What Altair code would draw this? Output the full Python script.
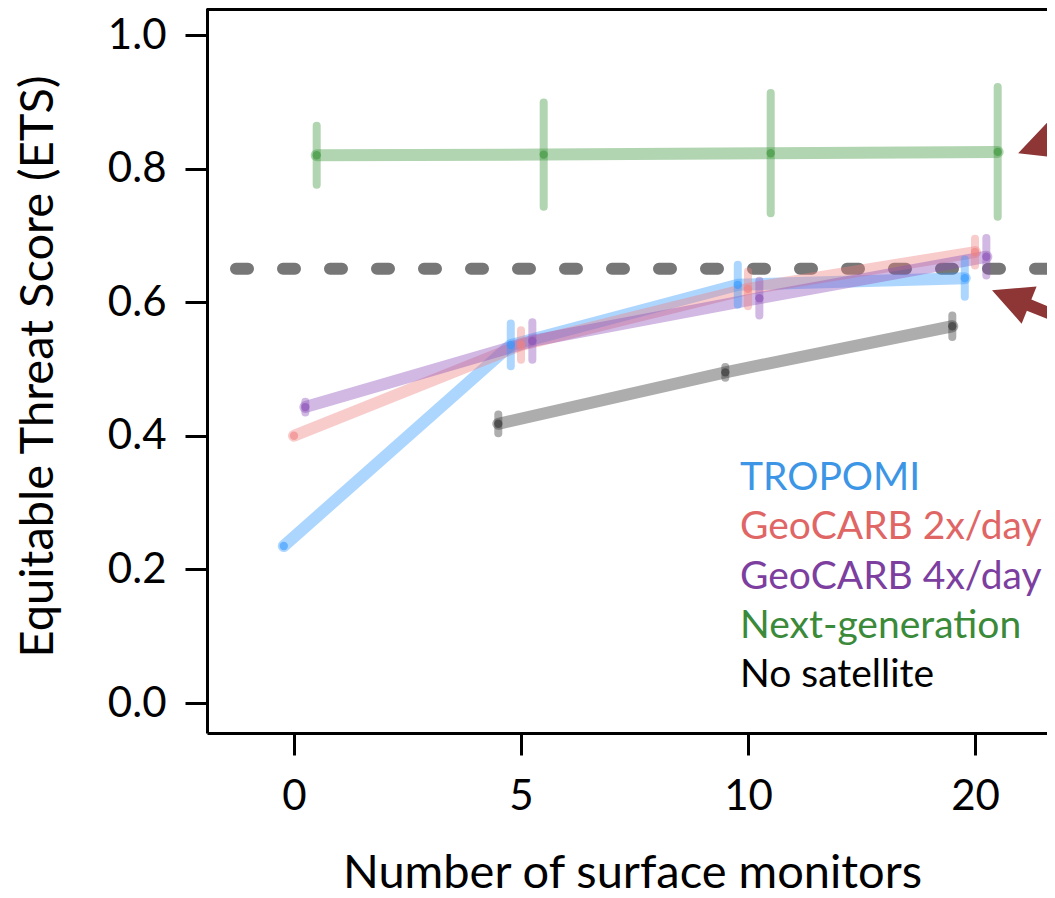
import altair as alt
import pandas as pd

# ---------------- data ----------------
monitors = ["0", "5", "10", "20"]
series = ["TROPOMI", "GeoCARB 2x/day", "GeoCARB 4x/day", "Next-generation", "No satellite"]

tropomi_ets = [0.235, 0.536, 0.626, 0.636]
tropomi_err = [0.0, 0.032, 0.030, 0.028]
geo2_ets = [0.400, 0.536, 0.620, 0.675]
geo2_err = [0.0, 0.022, 0.026, 0.020]
geo4_ets = [0.443, 0.542, 0.606, 0.668]
geo4_err = [0.008, 0.028, 0.026, 0.028]
nextgen_ets = [0.820, 0.821, 0.823, 0.825]
nextgen_err = [0.044, 0.078, 0.090, 0.097]
nosat_ets = [None, 0.418, 0.495, 0.564]
nosat_err = [None, 0.014, 0.008, 0.016]

threshold = 0.65
arrow_x = [3.19, 3.075]
arrow_y = [0.823, 0.618]

# ---------------- styles ----------------
line_colors = ["#3399FF", "#F08080", "#8B4FB8", "#3C963C", "#333333"]
text_colors = ["#3D95E6", "#E06666", "#7D3F9F", "#3A8A3A", "#000000"]
dodge = [-0.045, 0.0, 0.05, 0.1, -0.1]
arrow_angles = [340, 22]
FONT = "Lato"

W, H = 840, 725
STEP = 227.0
X0 = 87.0
xdom = [-X0 / STEP, (W - X0) / STEP]
ydom = [-30 / 668.0, 695 / 668.0]

ets_all = [tropomi_ets, geo2_ets, geo4_ets, nextgen_ets, nosat_ets]
err_all = [tropomi_err, geo2_err, geo4_err, nextgen_err, nosat_err]

rows = []
for s, name in enumerate(series):
    for i in range(len(monitors)):
        v = ets_all[s][i]
        e = err_all[s][i]
        if v is None:
            continue
        rows.append({"series": name, "x": i + dodge[s], "ets": v,
                     "lo": v - e, "hi": v + e, "err": e})
df = pd.DataFrame(rows)

xscale = alt.Scale(domain=xdom, nice=False, zero=False)
yscale = alt.Scale(domain=ydom, nice=False, zero=False)
cscale = alt.Scale(domain=series, range=line_colors)

label_expr = "[" + ",".join("'%s'" % m for m in monitors) + "][datum.value]"

xaxis = alt.Axis(values=list(range(len(monitors))), labelExpr=label_expr,
                 tickSize=22, tickWidth=3, tickColor="black",
                 domainColor="black", domainWidth=3, grid=False,
                 labelFont=FONT, labelFontSize=42, labelColor="black",
                 labelPadding=21, labelFlush=False, labelOverlap=False,
                 title="Number of surface monitors", titleFont=FONT,
                 titleFontSize=47, titleFontWeight="normal", titleColor="black",
                 titleX=425, titleY=154, titleAlign="center", titleBaseline="alphabetic")
yaxis = alt.Axis(values=[0, 0.2, 0.4, 0.6, 0.8, 1.0], format=".1f",
                 tickSize=22, tickWidth=3, tickColor="black",
                 domainColor="black", domainWidth=3, grid=False,
                 labelFont=FONT, labelFontSize=42, labelColor="black",
                 labelPadding=19, labelFlush=False, labelOverlap=False,
                 title="Equitable Threat Score (ETS)", titleFont=FONT,
                 titleFontSize=47, titleFontWeight="normal", titleColor="black",
                 titleX=-169, titleY=358, titleAlign="center", titleBaseline="middle",
                 titleAngle=270)

base = alt.Chart(df).encode(
    x=alt.X("x:Q", scale=xscale, axis=xaxis),
    y=alt.Y("ets:Q", scale=yscale, axis=yaxis),
    color=alt.Color("series:N", scale=cscale, legend=None),
)

thresh = alt.Chart(pd.DataFrame({"t": [threshold]})).mark_rule(
    color="#777777", strokeWidth=12, strokeDash=[12, 35], strokeCap="round"
).encode(y=alt.Y("t:Q", scale=yscale, axis=yaxis))

lines = base.mark_line(strokeWidth=12, opacity=0.4, strokeCap="round", strokeJoin="round")
bars = base.transform_filter("datum.err > 0").mark_rule(
    strokeWidth=8, opacity=0.4, strokeCap="round").encode(y="lo:Q", y2="hi:Q")
pts = base.mark_circle(size=70, opacity=0.6)

top_frame = alt.Chart(pd.DataFrame({"a": [0]})).mark_rule(color="black", strokeWidth=3).encode(
    x=alt.value(0), x2=alt.value(W + 20), y=alt.value(1.5))

arrow_path = "M0,0 L1,-0.5 L1,-0.15 L5,-0.15 L5,0.15 L1,0.15 L1,0.5 Z"
arrows = []
for k in range(len(arrow_x)):
    adf = pd.DataFrame({"x": [arrow_x[k]], "ets": [arrow_y[k]]})
    arrows.append(alt.Chart(adf).mark_point(
        shape=arrow_path, size=6400, filled=True, color="#8E3535",
        opacity=1, strokeWidth=0, angle=arrow_angles[k]
    ).encode(x=alt.X("x:Q", scale=xscale, axis=xaxis),
             y=alt.Y("ets:Q", scale=yscale, axis=yaxis)))

legend_layers = []
for i, name in enumerate(series):
    legend_layers.append(alt.Chart(pd.DataFrame({"a": [0]})).mark_text(
        text=name, align="left", baseline="middle", font=FONT, fontSize=39,
        color=text_colors[i]
    ).encode(x=alt.value(533), y=alt.value(470 + 49.3 * i)))

chart = alt.layer(thresh, lines, bars, pts, *arrows, top_frame, *legend_layers).properties(
    width=W, height=H,
    autosize=alt.AutoSizeParams(type="none"),
    padding={"left": 199, "top": 0, "right": 0, "bottom": 165},
).configure_view(strokeWidth=0)

chart.save("out.html", embed_options={"renderer": "svg", "actions": False})
